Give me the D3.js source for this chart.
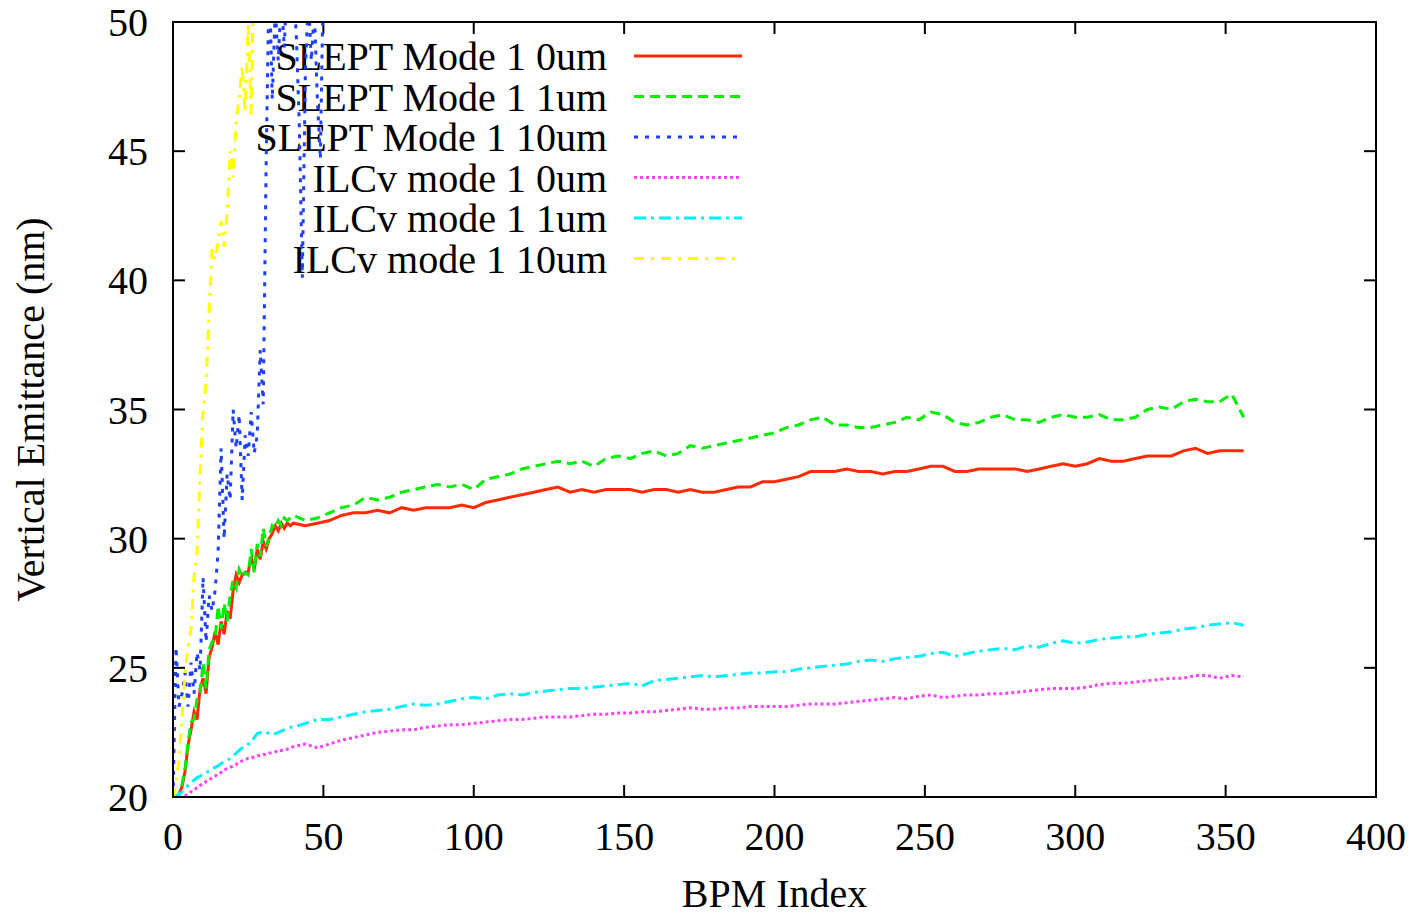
<!DOCTYPE html>
<html>
<head>
<meta charset="utf-8">
<script src="https://cdn.jsdelivr.net/npm/d3@7"></script>
<style>
  body { margin: 0; background: #fff; }
  text { font-family: "Liberation Serif", "Times New Roman", serif; fill: #000; }
</style>
</head>
<body>
<div id="chart"></div>
<script>
// BPM index (shared x values for the four long series)
const bpm = [0,1,2,3,4,5,6,7,8,9,10,11,12,13,14,15,16,17,18,19,20,21,22,23,24,25,26,27,28,29,30,31,32,33,34,35,36,37,38,39,40,
  44,48,52,56,60,64,68,72,76,80,84,88,92,96,100,104,108,112,116,120,124,128,132,136,140,144,148,152,156,160,164,168,172,176,180,
  184,188,192,196,200,204,208,212,216,220,224,228,232,236,240,244,248,252,256,260,264,268,272,276,280,284,288,292,296,300,304,308,
  312,316,320,324,328,332,336,340,344,348,352,356];

const slept0 = [20.0,20.0,20.1,20.4,21.0,22.0,22.6,23.3,23.0,24.2,24.6,24.0,25.4,25.8,26.4,25.9,26.8,26.3,27.2,26.9,28.0,28.6,28.3,28.6,28.7,28.7,29.3,28.8,29.6,29.2,29.9,29.6,30.0,30.2,30.5,30.3,30.6,30.4,30.6,30.5,30.6,
  30.5,30.6,30.7,30.9,31.0,31.0,31.1,31.0,31.2,31.1,31.2,31.2,31.2,31.3,31.2,31.4,31.5,31.6,31.7,31.8,31.9,32.0,31.8,31.9,31.8,31.9,31.9,31.9,31.8,31.9,31.9,31.8,31.9,31.8,31.8,
  31.9,32.0,32.0,32.2,32.2,32.3,32.4,32.6,32.6,32.6,32.7,32.6,32.6,32.5,32.6,32.6,32.7,32.8,32.8,32.6,32.6,32.7,32.7,32.7,32.7,32.6,32.7,32.8,32.9,32.8,32.9,33.1,
  33.0,33.0,33.1,33.2,33.2,33.2,33.4,33.5,33.3,33.4,33.4,33.4];

const slept1 = [20.0,20.0,20.1,20.5,21.1,22.1,22.9,23.0,23.8,24.0,25.2,24.2,25.7,26.0,26.1,27.4,26.5,27.5,26.8,27.8,28.4,28.1,28.8,28.5,28.7,28.6,29.6,28.7,29.8,29.3,30.4,29.7,30.1,30.5,30.4,30.7,30.5,30.8,30.7,30.8,30.9,
  30.7,30.8,31.0,31.2,31.3,31.6,31.5,31.6,31.8,31.9,32.0,32.1,32.0,32.1,31.9,32.3,32.4,32.5,32.7,32.8,32.9,33.0,32.9,33.0,32.8,33.1,33.2,33.1,33.3,33.4,33.2,33.3,33.6,33.5,33.6,
  33.7,33.8,33.9,34.0,34.1,34.3,34.4,34.6,34.7,34.4,34.4,34.3,34.3,34.4,34.5,34.7,34.6,34.9,34.8,34.5,34.4,34.5,34.7,34.8,34.6,34.6,34.5,34.7,34.8,34.7,34.7,34.8,
  34.6,34.6,34.7,35.0,35.1,35.0,35.3,35.4,35.3,35.3,35.6,34.7];

const ilc0 = [20.0,20.0,20.0,20.0,20.05,20.1,20.2,20.3,20.35,20.45,20.5,20.6,20.65,20.75,20.8,20.9,20.95,21.05,21.1,21.15,21.2,21.25,21.35,21.4,21.45,21.5,21.5,21.55,21.6,21.6,21.65,21.65,21.7,21.7,21.75,21.8,21.8,21.85,21.85,21.9,21.95,
  22.05,21.9,22.05,22.2,22.3,22.4,22.5,22.55,22.6,22.6,22.7,22.75,22.8,22.8,22.85,22.9,22.95,23.0,23.0,23.05,23.1,23.1,23.1,23.15,23.2,23.2,23.25,23.25,23.3,23.3,23.35,23.4,23.45,23.4,23.4,
  23.45,23.45,23.5,23.5,23.5,23.5,23.55,23.6,23.6,23.6,23.65,23.7,23.75,23.8,23.85,23.8,23.9,23.95,23.85,23.9,23.95,23.95,24.0,24.0,24.05,24.1,24.15,24.2,24.2,24.2,24.25,24.35,
  24.4,24.4,24.45,24.5,24.55,24.6,24.6,24.7,24.7,24.6,24.7,24.65];

const ilc1 = [20.0,20.05,20.1,20.2,20.3,20.45,20.55,20.65,20.75,20.8,20.9,20.95,21.0,21.1,21.15,21.2,21.3,21.35,21.4,21.5,21.6,21.7,21.8,21.9,22.0,22.05,22.1,22.3,22.45,22.5,22.5,22.45,22.5,22.5,22.45,22.5,22.55,22.6,22.65,22.7,22.7,
  22.85,23.0,23.0,23.1,23.2,23.3,23.35,23.4,23.5,23.6,23.55,23.6,23.7,23.8,23.85,23.8,23.95,24.0,23.95,24.05,24.1,24.15,24.2,24.2,24.25,24.3,24.35,24.4,24.3,24.5,24.55,24.6,24.65,24.7,24.65,
  24.7,24.75,24.8,24.8,24.85,24.85,24.95,25.0,25.05,25.1,25.15,25.25,25.3,25.25,25.35,25.4,25.45,25.55,25.6,25.45,25.55,25.65,25.7,25.75,25.7,25.85,25.8,25.95,26.05,25.95,26.0,26.1,
  26.15,26.2,26.2,26.3,26.35,26.4,26.5,26.55,26.65,26.7,26.75,26.65];

// the 10um runs blow up early, so they only have the first indices
const blueIdx = [0,1,2,3,4,5,6,7,8,9,10,11,12,13,14,15,16,17,18,19,20,21,22,23,24,25,26,27,28,29,30,31,32,33,34,35,36,37,38,39,40,41,42,43,44,45,46,47,48,49,50,51,52];
const slept10 = [20.0,25.8,23.5,24.0,24.8,23.5,25.2,24.0,25.6,24.9,28.5,26.0,27.8,27.2,28.0,29.5,33.5,30.0,32.5,31.5,35.0,33.5,34.8,31.5,34.0,33.2,34.9,33.3,34.0,37.3,35.2,44.8,52.0,47.0,50.5,48.5,51.0,49.0,52.0,50.0,51.5,49.5,46.0,40.1,48.0,51.0,48.5,50.5,47.0,44.7,52.0,55.0,58.0];

const yellowIdx = [0,1,2,3,4,5,6,7,8,9,10,11,12,13,14,15,16,17,18,19,20,21,22,23,24,25,26,27];
const ilc10 = [20.0,20.5,21.5,23.0,24.8,25.8,26.5,28.5,29.5,32.5,35.0,36.0,38.8,41.2,40.8,41.5,42.3,41.3,42.6,45.0,44.0,46.2,47.0,48.3,46.5,50.0,46.4,53.0];

const xTicks = [0,50,100,150,200,250,300,350,400];
const yTicks = [20,25,30,35,40,45,50];

const series = [
  {name: "SLEPT Mode 1 0um",  x: bpm,       y: slept0,  color: "#ff2a00", dash: null},
  {name: "SLEPT Mode 1 1um",  x: bpm,       y: slept1,  color: "#00ee00", dash: "10,6"},
  {name: "SLEPT Mode 1 10um", x: blueIdx,   y: slept10, color: "#1f3fff", dash: "4,7"},
  {name: "ILCv mode 1 0um",   x: bpm,       y: ilc0,    color: "#ff40ff", dash: "3,3"},
  {name: "ILCv mode 1 1um",   x: bpm,       y: ilc1,    color: "#00f0ff", dash: "12,5,3,5"},
  {name: "ILCv mode 1 10um",  x: yellowIdx, y: ilc10,   color: "#ffff00", dash: "10,7,3,7"}
];

// set the dimensions and margins of the graph
let margin = {top: 22, right: 46, bottom: 119, left: 173},
    width = 1422 - margin.left - margin.right,
    height = 916 - margin.top - margin.bottom;

let svg = d3.select("#chart")
    .append("svg")
    .attr("width", width + margin.left + margin.right)
    .attr("height", height + margin.top + margin.bottom)
    .append("g")
    .attr("transform", "translate(" + margin.left + "," + margin.top + ")");

let x = d3.scaleLinear().domain([0, 400]).range([0, width]);
let y = d3.scaleLinear().domain([20, 50]).range([height, 0]);

svg.append("defs").append("clipPath").attr("id", "clip")
    .append("rect").attr("width", width).attr("height", height);

// ticks on all four sides, pointing inwards
let tickLen = 12;
let ticks = svg.append("g").attr("stroke", "#000").attr("stroke-width", 2);
xTicks.forEach(t => {
    ticks.append("line").attr("x1", x(t)).attr("x2", x(t)).attr("y1", height).attr("y2", height - tickLen);
    ticks.append("line").attr("x1", x(t)).attr("x2", x(t)).attr("y1", 0).attr("y2", tickLen);
});
yTicks.forEach(t => {
    ticks.append("line").attr("x1", 0).attr("x2", tickLen).attr("y1", y(t)).attr("y2", y(t));
    ticks.append("line").attr("x1", width).attr("x2", width - tickLen).attr("y1", y(t)).attr("y2", y(t));
});

// tick labels
svg.append("g").selectAll("text").data(xTicks).enter().append("text")
    .attr("x", d => x(d)).attr("y", height + 53)
    .attr("text-anchor", "middle").style("font-size", "40px")
    .text(d => d);
svg.append("g").selectAll("text").data(yTicks).enter().append("text")
    .attr("x", -25).attr("y", d => y(d)).attr("dy", "0.35em")
    .attr("text-anchor", "end").style("font-size", "40px")
    .text(d => d);

// axis titles
svg.append("text")
    .attr("x", width / 2).attr("y", height + 110)
    .attr("text-anchor", "middle").style("font-size", "40px")
    .text("BPM Index");
svg.append("text")
    .attr("transform", "translate(" + (-129) + "," + (height / 2) + ") rotate(-90)")
    .attr("text-anchor", "middle").style("font-size", "40px")
    .text("Vertical Emittance (nm)");

// legend text goes under the curves (gnuplot draws it first)
let keyX = 607 - margin.left, keyY0 = 56 - margin.top, keyStep = 40.5;
svg.append("g").selectAll("text").data(series).enter().append("text")
    .attr("x", keyX).attr("y", (d, i) => keyY0 + i * keyStep).attr("dy", "0.35em")
    .attr("text-anchor", "end").style("font-size", "40px")
    .text(d => d.name);

let line = d3.line().x(d => x(d[0])).y(d => y(d[1]));
let plot = svg.append("g").attr("clip-path", "url(#clip)");

series.forEach((s, i) => {
    let pts = s.y.map((v, j) => [s.x[j], v]);
    plot.append("path")
        .datum(pts)
        .attr("d", line)
        .attr("fill", "none")
        .attr("stroke", s.color)
        .attr("stroke-width", 3)
        .attr("stroke-linejoin", "miter")
        .attr("stroke-dasharray", s.dash);
    svg.append("line")
        .attr("x1", 634 - margin.left).attr("x2", 742 - margin.left)
        .attr("y1", keyY0 + i * keyStep).attr("y2", keyY0 + i * keyStep)
        .attr("stroke", s.color).attr("stroke-width", 3)
        .attr("stroke-dasharray", s.dash);
});

// frame
svg.append("rect")
    .attr("width", width).attr("height", height)
    .attr("fill", "none").attr("stroke", "#000").attr("stroke-width", 2);
</script>
</body>
</html>
